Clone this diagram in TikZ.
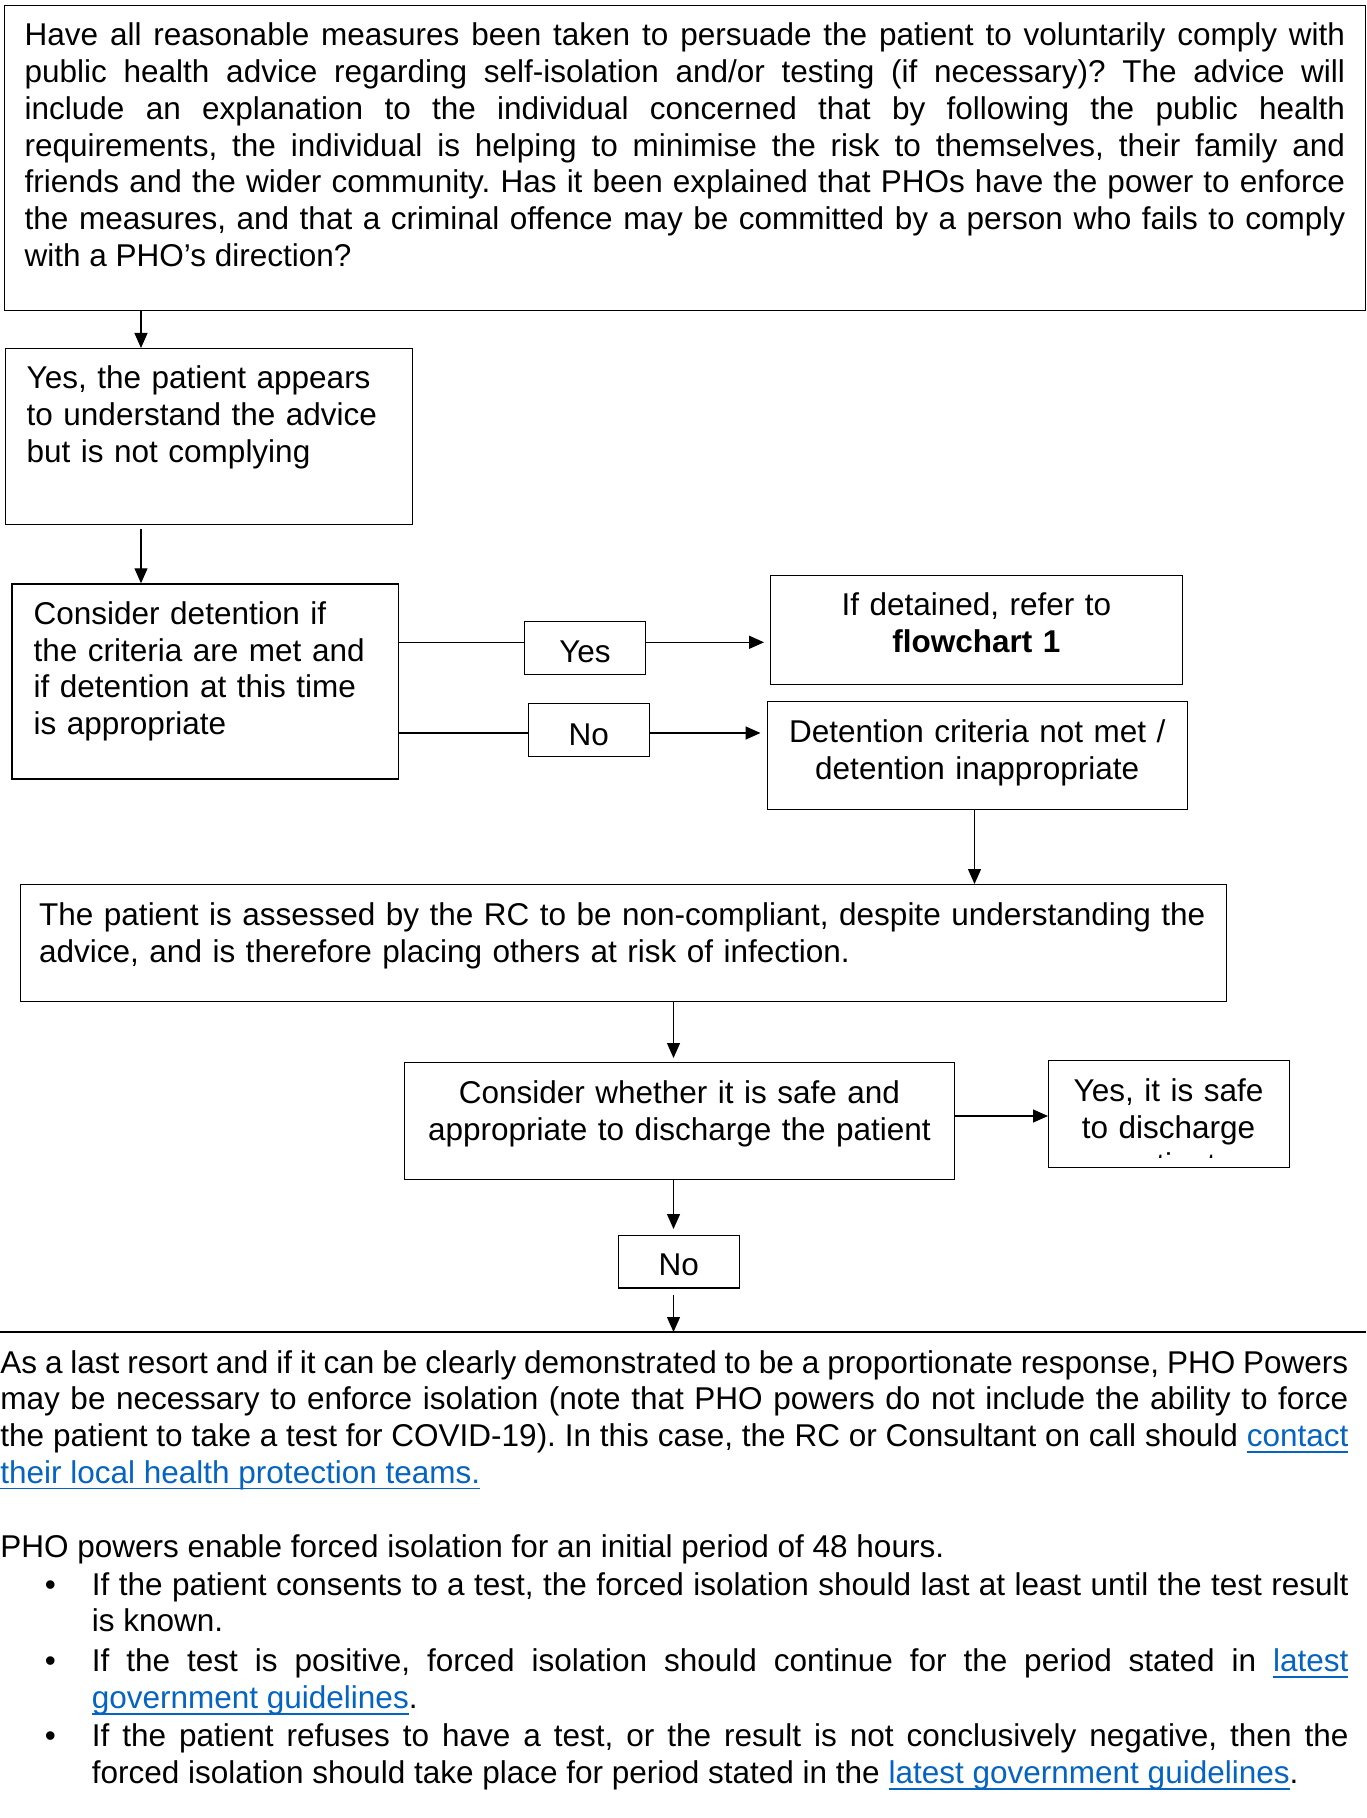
\documentclass[tikz,border=0pt]{standalone}
\usepackage{fontspec}
\setmainfont{Liberation Sans}
\usetikzlibrary{arrows.meta}

\definecolor{linkblue}{RGB}{5,99,193}
\newcommand\hlink[1]{\textcolor{linkblue}{\setbox0\hbox{#1}\rlap{\rule[-3pt]{\wd0}{0.9pt}}\box0}}
\newcommand\bodyfont{\fontsize{15.75}{18.4}\selectfont}
\hyphenpenalty=10000
\exhyphenpenalty=10000
\frenchspacing

\tikzset{
  panel/.style={draw, line width=0.7pt, anchor=north west, inner ysep=0pt, font=\bodyfont},
  flow/.style={-{Triangle[length=7.5pt,width=6.5pt]}, line width=0.6pt},
  para/.style={anchor=base west, inner sep=0pt, text width=#1, align=justify, font=\bodyfont}
}

\begin{document}
\begin{tikzpicture}[x=0.5pt, y=-0.5pt]
\useasboundingbox (0,0) rectangle (1366,1818);

% Question
\node[panel, text width=660.25pt, inner xsep=10.25pt, text height=20pt, text depth=132.5pt, align=justify] (question) at (3.5,5)
{Have all reasonable measures been taken to persuade the patient to voluntarily comply with\linebreak
public health advice regarding self-isolation and/or testing (if necessary)? The advice will\linebreak
include an explanation to the individual concerned that by following the public health\linebreak
requirements, the individual is helping to minimise the risk to themselves, their family and\linebreak
friends and the wider community. Has it been explained that PHOs have the power to enforce\linebreak
the measures, and that a criminal offence may be committed by a person who fails to comply\linebreak
with a PHO’s direction?};

\node[panel, text width=182.2pt, inner xsep=10.65pt, text height=20pt, text depth=68pt, align=left] (understand) at (4.7,348)
{Yes, the patient appears\\to understand the advice\\but is not complying};

% Detention
\node[panel, text width=171.35pt, inner xsep=10.9pt, text height=20.1pt, text depth=77.4pt, align=left] (detain) at (11.2,583.3)
{Consider detention if\\the criteria are met and\\if detention at this time\\is appropriate};

\node[panel, text width=60.25pt, inner xsep=0pt, text height=20.35pt, text depth=5.9pt, align=center] (yes) at (524,621)
{Yes};

\node[panel, text width=60.5pt, inner xsep=0pt, text height=21pt, text depth=5.5pt, align=center] (no) at (527.5,703)
{No};

\node[panel, text width=205.75pt, inner xsep=0pt, text height=20pt, text depth=34.5pt, align=center] (refer) at (770,575)
{If detained, refer to\\\textbf{flowchart 1}};

\node[panel, text width=210pt, inner xsep=0pt, text height=20.35pt, text depth=33.65pt, align=center] (notmet) at (766.5,701)
{Detention criteria not met /\\detention inappropriate};

% Assessment
\node[panel, text width=584pt, inner xsep=9.5pt, text height=20.5pt, text depth=38pt, align=left] (assessed) at (19.5,884)
{\mbox{The patient is assessed by the RC to be non-compliant, despite understanding the}\\advice, and is therefore placing others at risk of infection.};

% Discharge
\node[panel, text width=274.75pt, inner xsep=0pt, text height=20.35pt, text depth=38.15pt, align=center] (discharge) at (404,1062)
{Consider whether it is safe and\\appropriate to discharge the patient};

\node[panel, minimum width=120.5pt, minimum height=53.25pt] (safe) at (1048,1060) {};
\begin{scope}
\clip (safe.north west) rectangle ([yshift=5.25pt]safe.south east);
\node[anchor=base, inner sep=0pt, text width=120.5pt, align=center, font=\bodyfont] (safetext) at (1168.5,1101.7)
{Yes, it is safe\\to discharge\\patient};
\end{scope}

\node[panel, text width=60.4pt, inner xsep=0pt, text height=20pt, text depth=6.15pt, align=center] (no2) at (617.7,1235)
{No};

% Connectors
\coordinate (c1) at (141,0);
\coordinate (c2) at (673.5,0);
\coordinate (c3) at (974.5,0);
\coordinate (r1) at (0,642.3);
\coordinate (r2) at (0,733);
\coordinate (r3) at (0,1116);
\coordinate (rw) at (0,1332);
\coordinate (re) at (1366,1332);

\draw[flow] (question.south -| c1) -- (understand.north -| c1);
\draw[flow, shorten <=2pt] (understand.south -| c1) -- (detain.north -| c1);
\draw[line width=0.8pt] (detain.east |- r1) -- (yes.west |- r1);
\draw[flow, line width=0.8pt, shorten >=3pt] (yes.east |- r1) -- (refer.west |- r1);
\draw[line width=0.8pt] (detain.east |- r2) -- (no.west |- r2);
\draw[flow, line width=0.8pt, shorten >=3pt] (no.east |- r2) -- (notmet.west |- r2);
\draw[flow] (notmet.south -| c3) -- (assessed.north -| c3);
\draw[flow, shorten >=2pt] (assessed.south -| c2) -- (discharge.north -| c2);
\draw[flow] (discharge.east |- r3) -- (safe.west |- r3);
\draw[flow, shorten >=3pt] (discharge.south -| c2) -- (no2.north -| c2);
\draw[flow, shorten <=3pt] (no2.south -| c2) -- (rw -| c2);
\draw[line width=1pt] (rw) -- (re);

% Last resort
\node[para=674pt] (resort) at (0,1373)
{As a last resort and if it can be clearly demonstrated to be a proportionate response, PHO Powers\linebreak
may be necessary to enforce isolation (note that PHO powers do not include the ability to force\linebreak
the patient to take a test for COVID-19). In this case, the RC or Consultant on call should \hlink{contact}\linebreak
\hlink{their local health protection teams.}};

\node[para=674pt] (powers) at (0,1557)
{PHO powers enable forced isolation for an initial period of 48 hours.};

\foreach \y/\name in {1595/b1, 1671.7/b2, 1746.7/b3}
{
    \node[anchor=base, inner sep=0pt, font=\bodyfont] (\name) at (50.5,\y) {•};
}

\node[para=628.25pt] (item1) at (91.5,1595)
{If the patient consents to a test, the forced isolation should last at least until the test result\linebreak
is known.};

\node[para=628.25pt] (item2) at (91.5,1671.7)
{If the test is positive, forced isolation should continue for the period stated in \hlink{latest}\linebreak
\hlink{government guidelines}.};

\node[para=628.25pt] (item3) at (91.5,1746.7)
{If the patient refuses to have a test, or the result is not conclusively negative, then the\linebreak
forced isolation should take place for period stated in the \hlink{latest government guidelines}.};

\end{tikzpicture}
\end{document}
